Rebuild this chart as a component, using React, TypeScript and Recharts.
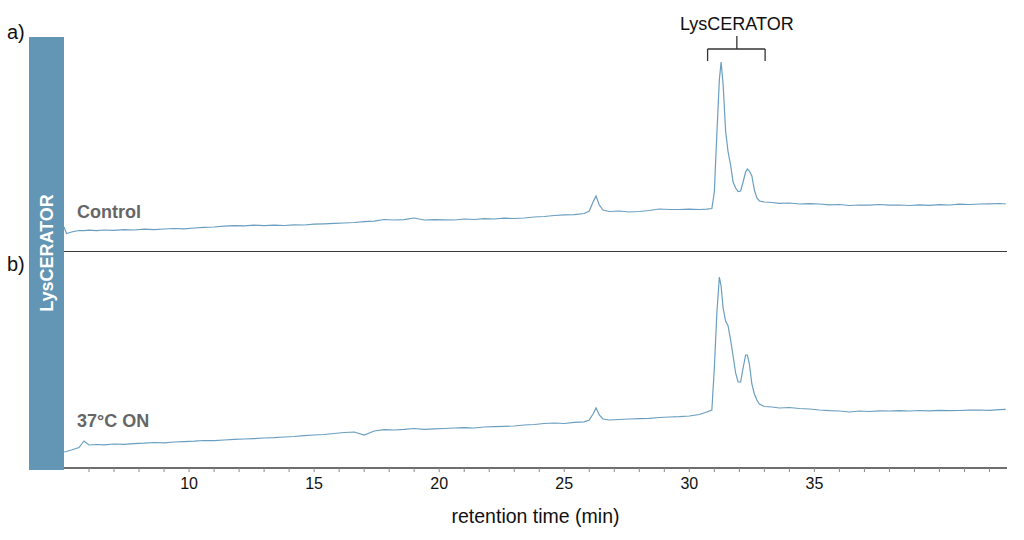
import React from 'react';
import { LineChart, Line, XAxis, YAxis, ReferenceLine, ReferenceDot } from 'recharts';

// retention time (min)
const times = [
  5.0, 5.1, 5.3, 5.6, 5.8, 6.0, 6.3, 6.6, 7.0, 7.4,
  7.8, 8.2, 8.6, 9.0, 9.4, 9.8, 10.2, 10.6, 11.0, 11.4,
  11.8, 12.2, 12.6, 13.0, 13.4, 13.8, 14.2, 14.6, 15.0, 15.4,
  15.8, 16.2, 16.6, 17.0, 17.4, 17.8, 18.2, 18.6, 19.0, 19.4,
  19.8, 20.2, 20.6, 21.0, 21.4, 21.8, 22.2, 22.6, 23.0, 23.4,
  23.8, 24.2, 24.6, 25.0, 25.4, 25.8, 26.0, 26.15, 26.27, 26.4,
  26.55, 26.8, 27.2, 27.6, 28.0, 28.4, 28.8, 29.2, 29.6, 30.0,
  30.4, 30.7, 30.9, 31.0, 31.1, 31.2, 31.27, 31.35, 31.45, 31.55,
  31.65, 31.75, 31.85, 31.95, 32.05, 32.15, 32.25, 32.32, 32.4, 32.5,
  32.6, 32.7, 32.8, 33.0, 33.3, 33.6, 34.0, 34.4, 34.8, 35.2,
  35.6, 36.0, 36.4, 36.8, 37.2, 37.6, 38.0, 38.4, 38.8, 39.2,
  39.6, 40.0, 40.4, 40.8, 41.2, 41.6, 42.0, 42.4, 42.65,
];

// a) Control trace (arbitrary intensity)
const controlSignal = [
  25, 18.5, 20, 21.5, 21.3, 21.8, 21.3, 22, 21.6, 22.4,
  22, 22.8, 22.3, 23, 23.5, 23.2, 24, 24.6, 25, 25.8,
  26.4, 26.2, 26.8, 26.3, 26.9, 26.5, 27.2, 27, 27.8, 28.2,
  28.6, 29, 29.5, 30.3, 30.8, 32.5, 32, 32.4, 34, 32,
  32.4, 32.2, 32, 33, 32.5, 33.4, 33, 33.8, 33.5, 34,
  35, 35.5, 36.5, 37.2, 37.4, 38.5, 41, 50, 56, 47,
  42, 40.5, 41, 40, 40.5, 41.5, 43, 42.5, 42.5, 42.8,
  42.5, 42.8, 43.5, 60, 118, 172, 190, 168, 121, 100,
  87, 70, 64, 60.5, 61, 70, 80, 83, 81, 76,
  62, 54, 51, 50, 49.5, 48.7, 49, 48, 48.3, 48,
  47.2, 47.5, 46.5, 47, 46.8, 47.5, 46.8, 47, 46.5, 47.2,
  46.6, 47.3, 47, 47.8, 47.5, 48, 48.2, 48.5, 48,
];

// b) 37°C ON trace (arbitrary intensity)
const onSignal = [
  16, 16.5, 18, 20.5, 27, 23, 23.5, 23.2, 24, 23.6,
  24.4, 24.8, 25.5, 25.2, 26, 26.4, 26.8, 27.5, 27.3, 28,
  28.6, 29, 29.4, 30, 30.3, 31, 31.5, 32.4, 33, 33.5,
  34.5, 35.5, 36, 33, 37, 38.4, 38, 38.6, 39.5, 38.7,
  39.2, 39.5, 40, 40.4, 40, 41, 41.3, 41.6, 42, 43,
  43.5, 44.5, 45, 44.5, 45.6, 46.2, 48, 54, 60, 53,
  49, 48, 48.5, 49, 49.4, 49.7, 50.5, 51, 51.3, 52,
  53.5, 56, 58, 100, 155, 191, 182, 160, 147, 142,
  128, 112, 95, 86, 86, 100, 113, 113, 104, 84,
  74, 68, 64, 61.5, 61, 60, 60.5, 59.5, 59, 58,
  57.3, 57, 56, 57, 56.5, 57.2, 57, 57.4, 57, 57.5,
  57.2, 57.6, 57.3, 57.5, 57.8, 58, 57.6, 58.3, 58.7,
];

const minorTicks = [
  6, 7, 8, 9, 10, 11, 12, 13, 14, 15, 16, 17, 18, 19, 20, 21, 22, 23, 24,
  25, 26, 27, 28, 29, 30, 31, 32, 33, 34, 35, 36, 37, 38, 39, 40, 41, 42,
];
const labelledTicks = [10, 15, 20, 25, 30, 35];

const panelLabels = ['Control', '37°C ON'];
const sideLabel = 'LysCERATOR';
const peakLabel = 'LysCERATOR';
const xTitle = 'retention time (min)';

const xDomain: [number, number] = [5, 42.7];
// bracket over the LysCERATOR peaks (time range) and its heights
const bracketFrom = 30.73;
const bracketTo = 33.03;
const bracketMid = 31.9;
const bracketLevel = 203;
const bracketFoot = 191;
const bracketTop = 216;

const FONT = '"Liberation Sans", Arial, Helvetica, sans-serif';
const TRACE = '#6a9ec0';

const controlData = times.map((t, i) => ({ t, v: controlSignal[i] }));
const onData = times.map((t, i) => ({ t, v: onSignal[i] }));

export default function App() {
  return (
    <div
      style={{
        position: 'absolute',
        left: 0,
        top: 0,
        width: 1024,
        height: 540,
        background: '#fff',
        fontFamily: FONT,
        overflow: 'hidden',
      }}
    >
      <svg
        width={1024}
        height={540}
        style={{ position: 'absolute', left: 0, top: 0 }}
        fontFamily={FONT}
      >
        <rect x={29} y={37} width={35} height={433} fill="#6395b4" />
        <text
          transform="translate(53.3,253) rotate(-90)"
          textAnchor="middle"
          fontSize={18}
          fontWeight="bold"
          fill="#ffffff"
        >
          {sideLabel}
        </text>
        <text x={7} y={39} fontSize={20} fill="#111">a)</text>
        <text x={7} y={271} fontSize={20} fill="#111">b)</text>
        <text x={77} y={218} fontSize={18} fontWeight="bold" fill="#666">
          {panelLabels[0]}
        </text>
        <text x={77} y={427} fontSize={18} fontWeight="bold" fill="#666">
          {panelLabels[1]}
        </text>
      </svg>

      <div style={{ position: 'absolute', left: 0, top: 0 }}>
        <LineChart
          width={1024}
          height={252}
          data={controlData}
          margin={{ top: 0, right: 17, bottom: 0, left: 64 }}
        >
          <XAxis dataKey="t" type="number" domain={xDomain} allowDataOverflow hide />
          <YAxis type="number" domain={[0, 252]} allowDataOverflow hide />
          <ReferenceLine y={0} stroke="#3a3a3a" strokeWidth={2.2} />
          <ReferenceLine
            segment={[{ x: bracketFrom, y: bracketLevel }, { x: bracketTo, y: bracketLevel }]}
            stroke="#333"
            strokeWidth={1.3}
          />
          <ReferenceLine
            segment={[{ x: bracketFrom, y: bracketLevel }, { x: bracketFrom, y: bracketFoot }]}
            stroke="#333"
            strokeWidth={1.3}
          />
          <ReferenceLine
            segment={[{ x: bracketTo, y: bracketLevel }, { x: bracketTo, y: bracketFoot }]}
            stroke="#333"
            strokeWidth={1.3}
          />
          <ReferenceLine
            segment={[{ x: bracketMid, y: bracketLevel }, { x: bracketMid, y: bracketTop }]}
            stroke="#333"
            strokeWidth={1.3}
          />
          <ReferenceDot
            x={bracketMid}
            y={bracketTop}
            r={0}
            fill="none"
            stroke="none"
            label={{ value: peakLabel, position: 'top', offset: 6, fill: '#111', fontSize: 18, fontFamily: FONT }}
          />
          <Line
            dataKey="v"
            type="linear"
            stroke={TRACE}
            strokeWidth={1.2}
            dot={false}
            isAnimationActive={false}
          />
        </LineChart>
      </div>

      <div style={{ position: 'absolute', left: 0, top: 0 }}>
        <LineChart
          width={1024}
          height={540}
          data={onData}
          margin={{ top: 252, right: 17, bottom: 0, left: 64 }}
        >
          <XAxis
            dataKey="t"
            type="number"
            domain={xDomain}
            allowDataOverflow
            ticks={minorTicks}
            interval={0}
            height={72}
            tickSize={4}
            tickMargin={6}
            tickFormatter={(v: number) => (labelledTicks.includes(v) ? String(v) : '')}
            axisLine={{ stroke: '#6e6e6e', strokeWidth: 2 }}
            tickLine={{ stroke: '#8a8a8a', strokeWidth: 1 }}
            tick={{ fill: '#111', fontSize: 16, fontFamily: FONT }}
            label={{ value: xTitle, position: 'insideBottom', offset: 17, fill: '#111', fontSize: 19.5, fontFamily: FONT }}
          />
          <YAxis type="number" domain={[0, 216]} allowDataOverflow hide />
          <Line
            dataKey="v"
            type="linear"
            stroke={TRACE}
            strokeWidth={1.2}
            dot={false}
            isAnimationActive={false}
          />
        </LineChart>
      </div>
    </div>
  );
}
